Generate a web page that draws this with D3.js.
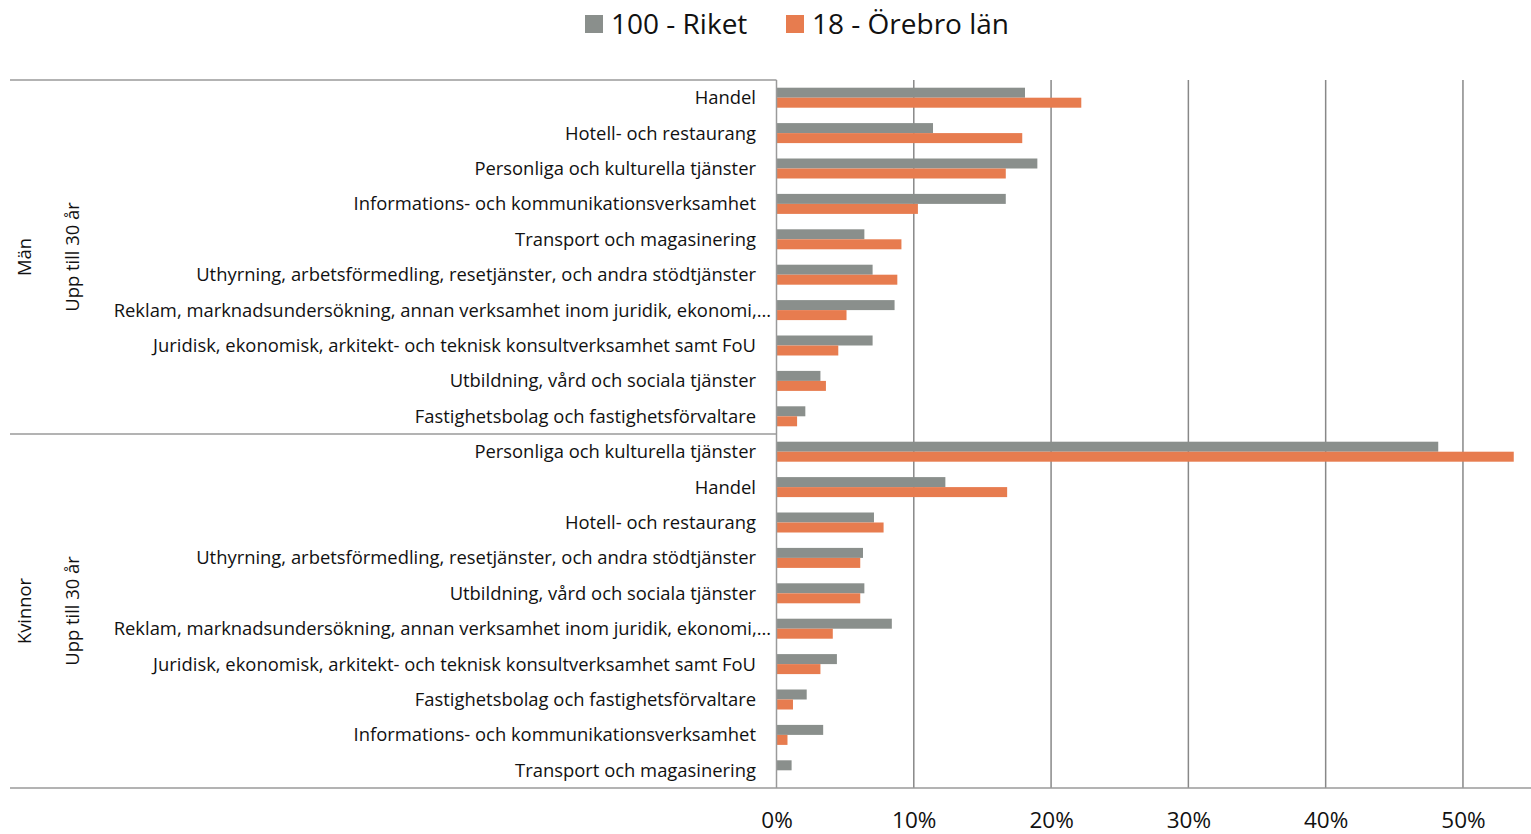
<!DOCTYPE html>
<html>
<head>
<meta charset="utf-8">
<script src="https://cdn.jsdelivr.net/npm/d3@7"></script>
<style>
  body { margin: 0; background: #fff; }
  text { font-family: "Open Sans", sans-serif; fill: #111; }
</style>
</head>
<body>
<svg id="chart" width="1531" height="834"></svg>
<script>
var GROUPS = ["Män", "Kvinnor"];
var AGE = "Upp till 30 år";
var SERIES = ["100 - Riket", "18 - Örebro län"];
var COLORS = ["#8a8f8c", "#e77c4f"];

var menCats = [
  "Handel",
  "Hotell- och restaurang",
  "Personliga och kulturella tjänster",
  "Informations- och kommunikationsverksamhet",
  "Transport och magasinering",
  "Uthyrning, arbetsförmedling, resetjänster, och andra stödtjänster",
  "Reklam, marknadsundersökning, annan verksamhet inom juridik, ekonomi,…",
  "Juridisk, ekonomisk, arkitekt- och teknisk konsultverksamhet samt FoU",
  "Utbildning, vård och sociala tjänster",
  "Fastighetsbolag och fastighetsförvaltare"
];
var menRiket  = [0.181, 0.114, 0.190, 0.167, 0.064, 0.070, 0.086, 0.070, 0.032, 0.021];
var menOrebro = [0.222, 0.179, 0.167, 0.103, 0.091, 0.088, 0.051, 0.045, 0.036, 0.015];

var womenCats = [
  "Personliga och kulturella tjänster",
  "Handel",
  "Hotell- och restaurang",
  "Uthyrning, arbetsförmedling, resetjänster, och andra stödtjänster",
  "Utbildning, vård och sociala tjänster",
  "Reklam, marknadsundersökning, annan verksamhet inom juridik, ekonomi,…",
  "Juridisk, ekonomisk, arkitekt- och teknisk konsultverksamhet samt FoU",
  "Fastighetsbolag och fastighetsförvaltare",
  "Informations- och kommunikationsverksamhet",
  "Transport och magasinering"
];
var womenRiket  = [0.482, 0.123, 0.071, 0.063, 0.064, 0.084, 0.044, 0.022, 0.034, 0.011];
var womenOrebro = [0.537, 0.168, 0.078, 0.061, 0.061, 0.041, 0.032, 0.012, 0.008, 0.000];

var xTicks = [0, 0.1, 0.2, 0.3, 0.4, 0.5];

// build rows
var rows = [];
menCats.forEach(function(c, i) { rows.push({g: 0, cat: c, v: [menRiket[i], menOrebro[i]]}); });
womenCats.forEach(function(c, i) { rows.push({g: 1, cat: c, v: [womenRiket[i], womenOrebro[i]]}); });

var svg = d3.select("#chart");
var TOP = 80, BOTTOM = 788, AXIS_X = 776.5, LEFT = 10;
var LABEL_SIZE = "18.4px";

var x = d3.scaleLinear().domain([0, 0.55]).range([AXIS_X, 1531.6]);
var y = d3.scaleBand().domain(d3.range(rows.length)).range([TOP, BOTTOM]);
var BAR_H = 10;

// gridlines
svg.append("g").selectAll("line")
    .data(xTicks.slice(1))
    .enter().append("line")
    .attr("x1", function(d) { return x(d); })
    .attr("x2", function(d) { return x(d); })
    .attr("y1", TOP).attr("y2", BOTTOM)
    .style("stroke", "#888").style("stroke-width", 1.5);

// bars
var rowG = svg.append("g").selectAll("g")
    .data(rows)
    .enter().append("g")
    .attr("transform", function(d, i) { return "translate(0," + (y(i) + y.bandwidth() / 2) + ")"; });

rowG.selectAll("rect")
    .data(function(d) { return d.v; })
    .enter().append("rect")
    .attr("x", x(0))
    .attr("y", function(d, j) { return j === 0 ? -BAR_H : 0; })
    .attr("width", function(d) { return x(d) - x(0); })
    .attr("height", BAR_H)
    .style("fill", function(d, j) { return COLORS[j]; });

// category labels (truncated ones run a bit past the label edge, like excel)
rowG.append("text")
    .attr("x", function(d) { return d.cat.slice(-1) === "…" ? 771 : 756; })
    .attr("y", 0)
    .attr("dy", "0.35em")
    .attr("text-anchor", "end")
    .style("font-size", LABEL_SIZE)
    .text(function(d) { return d.cat; });

// frame lines
var mid = y(10);
svg.append("line").attr("x1", LEFT).attr("x2", AXIS_X).attr("y1", TOP).attr("y2", TOP)
    .style("stroke", "#9a9a9a").style("stroke-width", 1.5);
svg.append("line").attr("x1", LEFT).attr("x2", AXIS_X).attr("y1", mid).attr("y2", mid)
    .style("stroke", "#9a9a9a").style("stroke-width", 1.5);
svg.append("line").attr("x1", LEFT).attr("x2", 1531).attr("y1", BOTTOM).attr("y2", BOTTOM)
    .style("stroke", "#9a9a9a").style("stroke-width", 1.5);
svg.append("line").attr("x1", AXIS_X).attr("x2", AXIS_X).attr("y1", TOP).attr("y2", BOTTOM)
    .style("stroke", "#9a9a9a").style("stroke-width", 1.5);

// group labels (rotated)
GROUPS.forEach(function(g, k) {
    var cy = (y(k * 10) + y(k * 10 + 9) + y.bandwidth()) / 2;
    svg.append("text")
        .attr("transform", "translate(25," + cy + ") rotate(-90)")
        .attr("text-anchor", "middle").attr("dy", "0.35em")
        .style("font-size", LABEL_SIZE)
        .text(g);
    svg.append("text")
        .attr("transform", "translate(73," + cy + ") rotate(-90)")
        .attr("text-anchor", "middle").attr("dy", "0.35em")
        .style("font-size", LABEL_SIZE)
        .text(AGE);
});

// x axis labels
var xAxis = d3.axisBottom(x).tickValues(xTicks).tickSize(0).tickPadding(0)
    .tickFormat(d3.format(".0%"));
var ax = svg.append("g").attr("transform", "translate(0," + 810 + ")").call(xAxis);
ax.select(".domain").remove();
ax.selectAll("text")
    .style("font-size", "22.5px")
    .style("font-family", "Open Sans, sans-serif")
    .style("fill", "#111")
    .attr("dy", "0.35em").attr("y", 10);

// legend
var legend = svg.append("g");
var legX = [585, 786];
SERIES.forEach(function(s, j) {
    legend.append("rect")
        .attr("x", legX[j]).attr("y", 15)
        .attr("width", 18).attr("height", 18)
        .style("fill", COLORS[j]);
    legend.append("text")
        .attr("x", legX[j] + 26).attr("y", 24)
        .attr("dy", "0.35em")
        .style("font-size", "28px")
        .text(s);
});
</script>
</body>
</html>
